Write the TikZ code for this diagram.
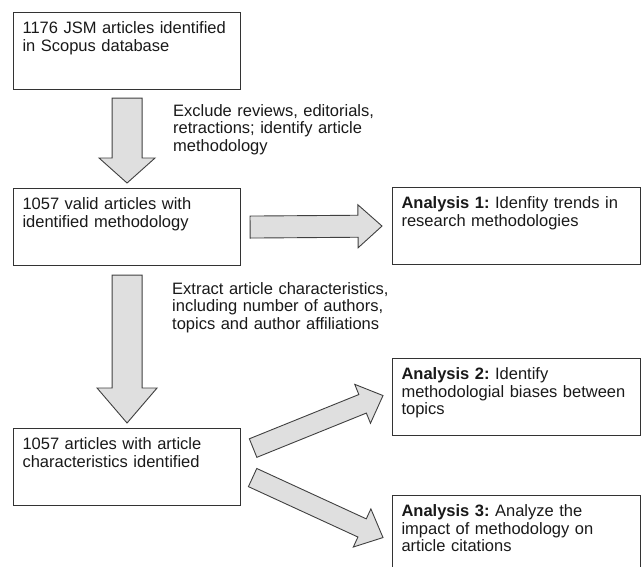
\documentclass[tikz,border=0pt]{standalone}
\usepackage{fontspec}
\setmainfont{Liberation Sans}
\usetikzlibrary{calc}

% block arrow: tail, tip, half shaft, half head, head length
\newcommand{\blockarrow}[5]{%
  \coordinate (neck) at ($(#2)!#5!(#1)$);
  \draw[flowarrow] ($(#1)!#3!90:(#2)$) -- ($(neck)!#3!90:(#2)$) -- ($(neck)!#4!90:(#2)$) -- (#2)
    -- ($(neck)!#4!-90:(#2)$) -- ($(neck)!#3!-90:(#2)$) -- ($(#1)!#3!-90:(#2)$) -- cycle;
}

\begin{document}
\begin{tikzpicture}[
    x=1pt, y=-1pt,
    font=\fontsize{16.5}{17.5}\selectfont\frenchspacing,
    box/.style={draw=black!80, line width=1.1pt, anchor=north west, text=black!90,
      inner xsep=9pt, inner ysep=0pt, text width=209pt, align=left,
      text height=21pt, text depth=56pt},
    wide/.style={box, text width=230pt},
    note/.style={anchor=base west, inner sep=0pt, text width=240pt, align=left, text=black!90},
    flowarrow/.style={draw=black!75, line width=0.9pt, fill=gray!25, line join=miter}
  ]
    \useasboundingbox (0,0) rectangle (641,566);
    \node[box] (src) at (13,12) {1176 JSM articles identified\\in Scopus database};
    \node[box] (valid) at (13,188) {1057 valid articles with\\identified methodology};
    \node[box] (chars) at (13,428) {1057 articles with article\\characteristics identified};
    \node[wide] (an1) at (392,187) {\textbf{Analysis 1:} Idenfity trends in\\research methodologies};
    \node[wide] (an2) at (392,358) {\textbf{Analysis 2:} Identify\\methodologial biases between\\topics};
    \node[wide] (an3) at (392,495) {\textbf{Analysis 3:} Analyze the\\impact of methodology on\\article citations};
    \node[note] (lblExcl) at (173,116) {Exclude reviews, editorials,\\retractions; identify article\\methodology};
    \node[note] (lblExtr) at (172,294) {Extract article characteristics,\\including number of authors,\\topics and author affiliations};
    % arrows
    \coordinate (t1) at ([yshift=-8pt]src.south);
    \coordinate (h1) at ([yshift=5pt]valid.north);
    \blockarrow{t1}{h1}{15pt}{28pt}{25pt}
    \coordinate (t2) at ([yshift=-9pt]valid.south);
    \coordinate (h2) at ([yshift=5pt]chars.north);
    \blockarrow{t2}{h2}{15pt}{30pt}{35pt}
    \coordinate (t3) at ([xshift=9pt]valid.east);
    \coordinate (h3) at ([xshift=-10pt]an1.west);
    \blockarrow{t3}{h3}{11pt}{21.5pt}{24pt}
    \coordinate (t4) at ([xshift=12pt,yshift=19pt]chars.east);
    \coordinate (h4) at ([xshift=-9pt,yshift=1.5pt]an2.west);
    \blockarrow{t4}{h4}{10pt}{21pt}{22pt}
    \coordinate (t5) at ([xshift=11.5pt,yshift=-10.5pt]chars.east);
    \coordinate (h5) at ([xshift=-9pt,yshift=-3.5pt]an3.west);
    \blockarrow{t5}{h5}{10pt}{21pt}{23pt}
  \end{tikzpicture}
\end{document}
